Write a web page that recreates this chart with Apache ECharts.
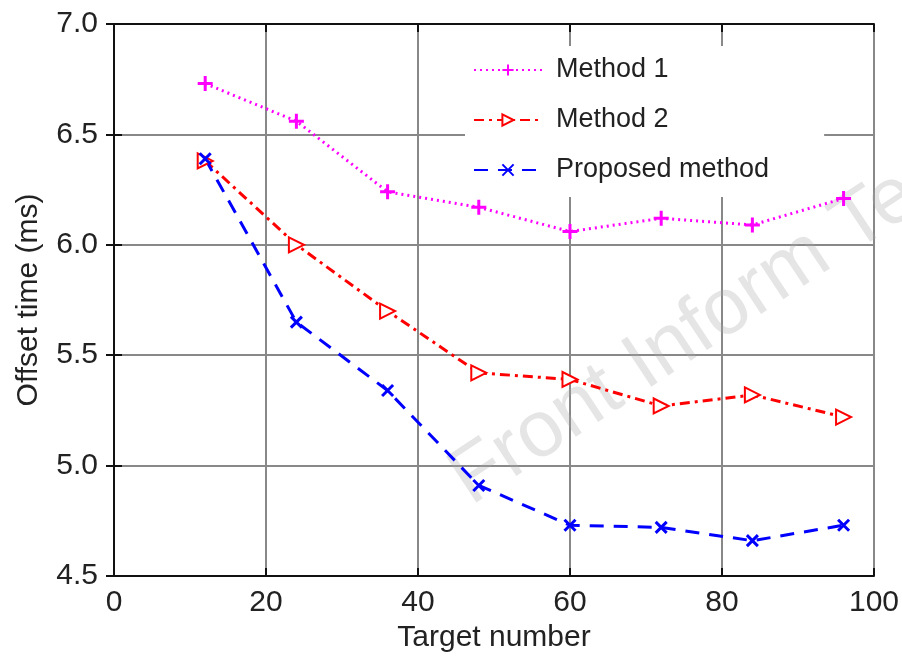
<!DOCTYPE html>
<html>
<head>
<meta charset="utf-8">
<script src="https://cdn.jsdelivr.net/npm/echarts@6/dist/echarts.min.js"></script>
<style>
  html, body { margin: 0; padding: 0; background: #fff; }
  #main { width: 902px; height: 658px; }
</style>
</head>
<body>
<div id="main"></div>
<script type="text/javascript">
// data
var targetNumber = [12, 24, 36, 48, 60, 72, 84, 96];
var method1 = [6.73, 6.56, 6.24, 6.17, 6.06, 6.12, 6.09, 6.21];
var method2 = [6.38, 6.00, 5.70, 5.42, 5.39, 5.27, 5.32, 5.22];
var proposed = [6.39, 5.65, 5.34, 4.91, 4.73, 4.72, 4.66, 4.73];
var seriesNames = ['Method 1', 'Method 2', 'Proposed method'];

function pairs(xs, ys) {
  var out = [];
  for (var i = 0; i < xs.length; i++) {
    out.push([xs[i], ys[i]]);
  }
  return out;
}

var font = 'Liberation Sans, Arial, sans-serif';
var chart = echarts.init(document.getElementById('main'));

// top / right axes only close the frame and carry inward ticks
var frameAxis = {
  axisLine: {show: true, lineStyle: {color: '#111', width: 2}},
  axisTick: {show: true, inside: true, length: 8, lineStyle: {color: '#111', width: 2}},
  axisLabel: {show: false},
  splitLine: {show: false}
};

var option = {
  animation: false,
  backgroundColor: '#fff',
  textStyle: {fontFamily: font},
  graphic: [{
    type: 'text',
    x: 481,
    y: 521,
    rotation: 33.5 * Math.PI / 180,
    z: 1,
    silent: true,
    style: {
      text: 'Front Inform Tec',
      x: 0,
      y: 0,
      align: 'left',
      verticalAlign: 'bottom',
      font: '80px ' + font,
      fill: 'rgba(170,170,170,0.3)'
    }
  }],
  legend: {
    left: 465,
    top: 46,
    orient: 'vertical',
    backgroundColor: '#fff',
    padding: [9, 55, 12, 8],
    itemWidth: 68,
    itemHeight: 14,
    itemGap: 20,
    textStyle: {fontSize: 27, lineHeight: 30, color: '#222', fontFamily: font, padding: [0, 0, 0, 9]},
    data: seriesNames
  },
  grid: {left: 114, right: 26, top: 24, bottom: 82},
  xAxis: [{
    type: 'value',
    min: 0, max: 100, interval: 20,
    name: 'Target number',
    nameLocation: 'middle',
    nameGap: 46,
    nameTextStyle: {fontSize: 30, color: '#222', fontFamily: font},
    axisLine: {show: true, lineStyle: {color: '#111', width: 2}},
    axisTick: {show: true, inside: true, length: 8, lineStyle: {color: '#111', width: 2}},
    axisLabel: {fontSize: 30, color: '#222', margin: 12, fontFamily: font},
    splitLine: {show: true, lineStyle: {color: '#888', width: 2}}
  }, Object.assign({type: 'value', position: 'top', min: 0, max: 100, interval: 20}, frameAxis)],
  yAxis: [{
    type: 'value',
    min: 4.5, max: 7.0, interval: 0.5,
    name: 'Offset time (ms)',
    nameLocation: 'middle',
    nameGap: 70,
    nameTextStyle: {fontSize: 30, color: '#222', fontFamily: font},
    axisLine: {show: true, lineStyle: {color: '#111', width: 2}},
    axisTick: {show: true, inside: true, length: 8, lineStyle: {color: '#111', width: 2}},
    axisLabel: {fontSize: 30, color: '#222', margin: 16, fontFamily: font,
      formatter: function (v) { return v.toFixed(1); }},
    splitLine: {show: true, lineStyle: {color: '#888', width: 2}}
  }, Object.assign({type: 'value', position: 'right', min: 4.5, max: 7.0, interval: 0.5}, frameAxis)],
  series: [{
    name: seriesNames[0],
    type: 'line',
    data: pairs(targetNumber, method1),
    symbol: 'path://M0,5 L10,5 M5,0 L5,10',
    symbolSize: 15,
    lineStyle: {color: '#ff00ff', width: 3, type: [2, 4]},
    itemStyle: {color: '#ff00ff', borderColor: '#ff00ff', borderWidth: 3},
    z: 3
  }, {
    name: seriesNames[1],
    type: 'line',
    data: pairs(targetNumber, method2),
    symbol: 'path://M0,0 L10,5 L0,10 Z',
    symbolSize: 15,
    lineStyle: {color: '#ff0000', width: 3, type: [10, 5, 3, 5]},
    itemStyle: {color: '#fff', borderColor: '#ff0000', borderWidth: 2},
    z: 3
  }, {
    name: seriesNames[2],
    type: 'line',
    data: pairs(targetNumber, proposed),
    symbol: 'path://M0,0 L10,10 M10,0 L0,10',
    symbolSize: 11,
    lineStyle: {color: '#0000ff', width: 3, type: [14, 10]},
    itemStyle: {color: '#0000ff', borderColor: '#0000ff', borderWidth: 3},
    z: 3
  }]
};

chart.setOption(option);
</script>
</body>
</html>
